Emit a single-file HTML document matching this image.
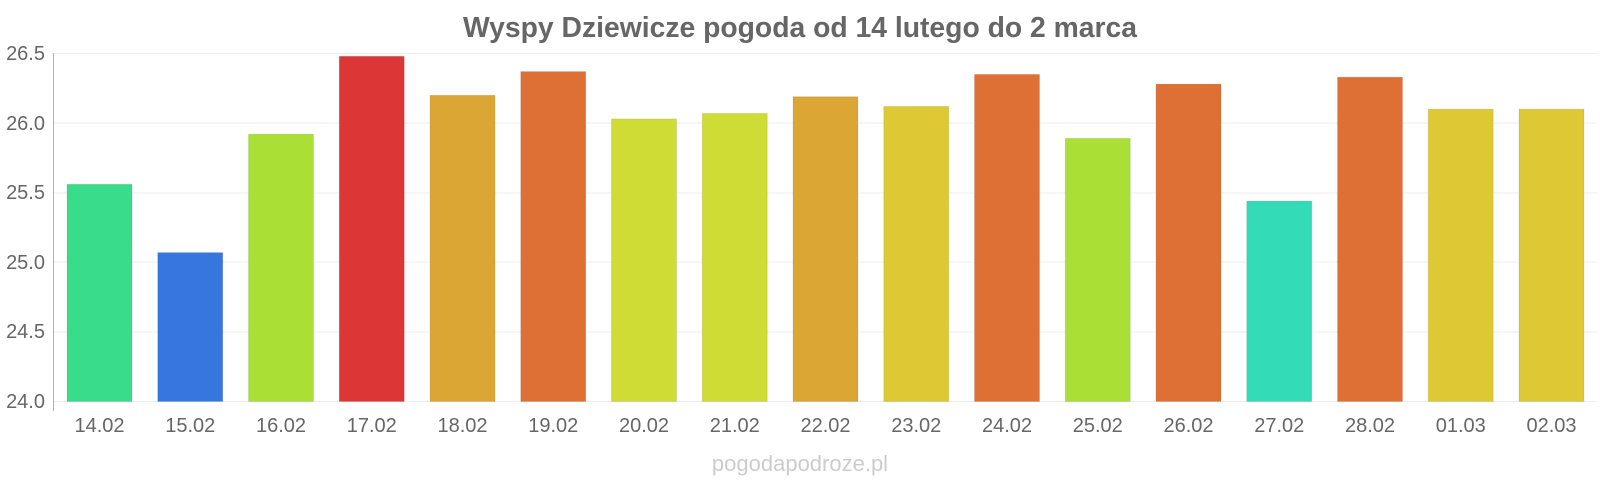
<!DOCTYPE html><html><head><style>body{margin:0;background:#fff}svg{display:block}</style></head><body>
<svg width="1600" height="480" xmlns="http://www.w3.org/2000/svg" font-family="Liberation Sans, sans-serif">
<text x="800" y="37" text-anchor="middle" font-size="28.3" font-weight="bold" fill="#666">Wyspy Dziewicze pogoda od 14 lutego do 2 marca</text>
<g stroke="#eeeeee" stroke-width="1">
<line x1="53" x2="1597" y1="53.5" y2="53.5"/><line x1="53" x2="1597" y1="123" y2="123"/><line x1="53" x2="1597" y1="193" y2="193"/><line x1="53" x2="1597" y1="262" y2="262"/><line x1="53" x2="1597" y1="332" y2="332"/><line x1="53" x2="1597" y1="401.5" y2="401.5"/>
</g>
<line x1="53.5" x2="53.5" y1="53" y2="411" stroke="#aab4b4"/>
<g font-size="20" fill="#666" text-anchor="end">
<text x="45" y="60">26.5</text><text x="45" y="130">26.0</text><text x="45" y="199">25.5</text><text x="45" y="269">25.0</text><text x="45" y="338">24.5</text><text x="45" y="408">24.0</text>
</g>
<g stroke="rgba(0,0,0,0.08)">
<rect x="67" y="184.3" width="65" height="217.2" fill="#38dc8a"/>
<rect x="157.75" y="252.6" width="65" height="148.9" fill="#3577de"/>
<rect x="248.5" y="134.2" width="65" height="267.3" fill="#aadf35"/>
<rect x="339.25" y="56.3" width="65" height="345.2" fill="#dc3636"/>
<rect x="430" y="95.3" width="65" height="306.2" fill="#dca634"/>
<rect x="520.75" y="71.6" width="65" height="329.9" fill="#de7035"/>
<rect x="611.5" y="118.9" width="65" height="282.6" fill="#cfdc35"/>
<rect x="702.25" y="113.4" width="65" height="288.1" fill="#cfdc35"/>
<rect x="793" y="96.7" width="65" height="304.8" fill="#dca634"/>
<rect x="883.75" y="106.4" width="65" height="295.1" fill="#dcc934"/>
<rect x="974.5" y="74.4" width="65" height="327.1" fill="#de7035"/>
<rect x="1065.25" y="138.4" width="65" height="263.1" fill="#aadf35"/>
<rect x="1156" y="84.1" width="65" height="317.4" fill="#de7035"/>
<rect x="1246.75" y="201.1" width="65" height="200.4" fill="#34dbb7"/>
<rect x="1337.5" y="77.2" width="65" height="324.3" fill="#de7035"/>
<rect x="1428.25" y="109.2" width="65" height="292.3" fill="#dcc934"/>
<rect x="1519" y="109.2" width="65" height="292.3" fill="#dcc934"/>
</g>
<g font-size="20" fill="#666" text-anchor="middle">
<text x="99.5" y="432">14.02</text><text x="190.25" y="432">15.02</text><text x="281" y="432">16.02</text><text x="371.75" y="432">17.02</text><text x="462.5" y="432">18.02</text><text x="553.25" y="432">19.02</text><text x="644" y="432">20.02</text><text x="734.75" y="432">21.02</text><text x="825.5" y="432">22.02</text><text x="916.25" y="432">23.02</text><text x="1007" y="432">24.02</text><text x="1097.75" y="432">25.02</text><text x="1188.5" y="432">26.02</text><text x="1279.25" y="432">27.02</text><text x="1370" y="432">28.02</text><text x="1460.75" y="432">01.03</text><text x="1551.5" y="432">02.03</text>
</g>
<text x="800" y="471" text-anchor="middle" font-size="22" fill="#ccc">pogodapodroze.pl</text>
</svg></body></html>
